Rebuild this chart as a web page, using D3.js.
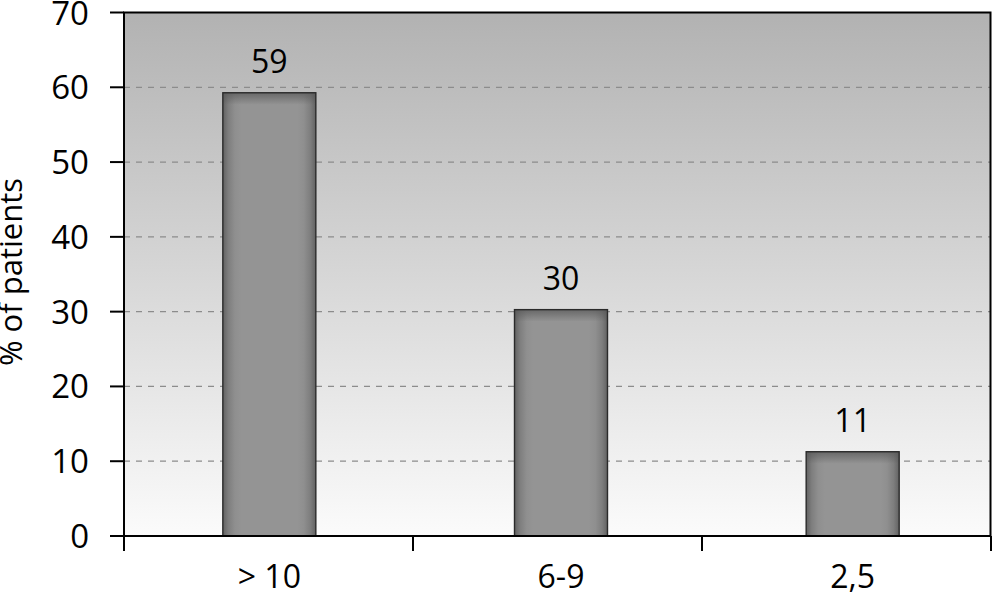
<!DOCTYPE html>
<html><head><meta charset="utf-8">
<script src="https://cdn.jsdelivr.net/npm/d3@7"></script>
<style>body{margin:0;background:#fff}svg{display:block}text{font-family:"Open Sans",sans-serif;fill:#000}</style>
</head><body>
<script>
const categories = ["> 10", "6-9", "2,5"];
const values = [59, 30, 11];
const yTicks = [0, 10, 20, 30, 40, 50, 60, 70];
const yTitle = "% of patients";

(function () {
const W = 992, H = 595;
const pL = 124, pR = 990.5, pT = 12.5, pB = 536;
const svg = d3.select("body").append("svg").attr("width", W).attr("height", H);

const y = d3.scaleLinear().domain([0, 70]).range([pB, pT]);
const xAxis = d3.scaleBand().domain(categories).range([pL, pL + 3 * 289]);
const xBar = d3.scaleBand().domain(categories).range([123.5, 998.5]).paddingInner(0).paddingOuter(0);
const barW = 93;

const defs = svg.append("defs");
const bg = defs.append("linearGradient").attr("id", "bg").attr("x1", 0).attr("y1", 0).attr("x2", 0).attr("y2", 1);
bg.append("stop").attr("offset", "0%").attr("stop-color", "#b2b2b2");
bg.append("stop").attr("offset", "100%").attr("stop-color", "#fbfbfb");
const bh = defs.append("linearGradient").attr("id", "barH").attr("x1", 0).attr("y1", 0).attr("x2", 1).attr("y2", 0);
[[0, "#626262"], [0.06, "#7e7e7e"], [0.13, "#8f8f8f"], [0.2, "#949494"], [0.8, "#949494"], [0.87, "#8f8f8f"], [0.94, "#7e7e7e"], [1, "#626262"]].forEach(s =>
  bh.append("stop").attr("offset", s[0]).attr("stop-color", s[1]));
const bt = defs.append("linearGradient").attr("id", "barT").attr("x1", 0).attr("y1", 0).attr("x2", 0).attr("y2", 1);
bt.append("stop").attr("offset", 0).attr("stop-color", "#555").attr("stop-opacity", 0.7);
bt.append("stop").attr("offset", 1).attr("stop-color", "#555").attr("stop-opacity", 0);

// plot background
svg.append("rect").attr("x", pL).attr("y", pT).attr("width", pR - pL).attr("height", pB - pT).attr("fill", "url(#bg)");

// gridlines
svg.append("g").selectAll("line").data(yTicks.filter(t => t > 0 && t < 70)).join("line")
  .attr("x1", pL).attr("x2", pR).attr("y1", d => y(d)).attr("y2", d => y(d))
  .attr("stroke", "#8c8c8c").attr("stroke-width", 1.3).attr("stroke-dasharray", "6,6");

// bars
const bars = svg.append("g").selectAll("g").data(categories).join("g");
bars.append("rect")
  .attr("x", (d) => xBar(d) + xBar.bandwidth() / 2 - barW / 2)
  .attr("y", (d, i) => y(values[i]) - 2)
  .attr("width", barW)
  .attr("height", (d, i) => pB - y(values[i]) + 2)
  .attr("fill", "url(#barH)");
bars.append("rect")
  .attr("x", (d) => xBar(d) + xBar.bandwidth() / 2 - barW / 2)
  .attr("y", (d, i) => y(values[i]) - 2)
  .attr("width", barW)
  .attr("height", 12)
  .attr("fill", "url(#barT)");
bars.append("rect")
  .attr("x", (d) => xBar(d) + xBar.bandwidth() / 2 - barW / 2)
  .attr("y", (d, i) => y(values[i]) - 2)
  .attr("width", barW)
  .attr("height", (d, i) => pB - y(values[i]) + 2)
  .attr("fill", "none")
  .attr("stroke", "#2a2a2a").attr("stroke-width", 1.4);

// value labels
bars.append("text")
  .attr("x", d => xBar(d) + xBar.bandwidth() / 2)
  .attr("y", (d, i) => y(values[i]) - 22)
  .attr("text-anchor", "middle").attr("font-size", 32)
  .text((d, i) => values[i]);

// frame
svg.append("rect").attr("x", pL).attr("y", pT).attr("width", pR - pL).attr("height", pB - pT)
  .attr("fill", "none").attr("stroke", "#000").attr("stroke-width", 2);

// y axis ticks & labels
const yg = svg.append("g");
yg.selectAll("line").data(yTicks).join("line")
  .attr("x1", 110).attr("x2", pL).attr("y1", d => y(d)).attr("y2", d => y(d))
  .attr("stroke", "#000").attr("stroke-width", 2);
yg.selectAll("text").data(yTicks).join("text")
  .attr("x", 89).attr("y", d => y(d) + 12)
  .attr("text-anchor", "end").attr("font-size", 33)
  .text(d => d);

// x axis ticks & labels
const xg = svg.append("g");
const bounds = categories.map(c => xAxis(c)).concat([xAxis(categories[2]) + xAxis.bandwidth()]);
xg.selectAll("line").data(bounds).join("line")
  .attr("x1", d => d).attr("x2", d => d).attr("y1", pB).attr("y2", 551)
  .attr("stroke", "#000").attr("stroke-width", 2);
xg.selectAll("text").data(categories).join("text")
  .attr("x", d => xBar(d) + xBar.bandwidth() / 2).attr("y", 588)
  .attr("text-anchor", "middle").attr("font-size", 32)
  .text(d => d);

// y title
svg.append("text").attr("transform", "translate(22,272) rotate(-90)")
  .attr("text-anchor", "middle").attr("font-size", 31).text(yTitle);
})();
</script>
</body></html>
